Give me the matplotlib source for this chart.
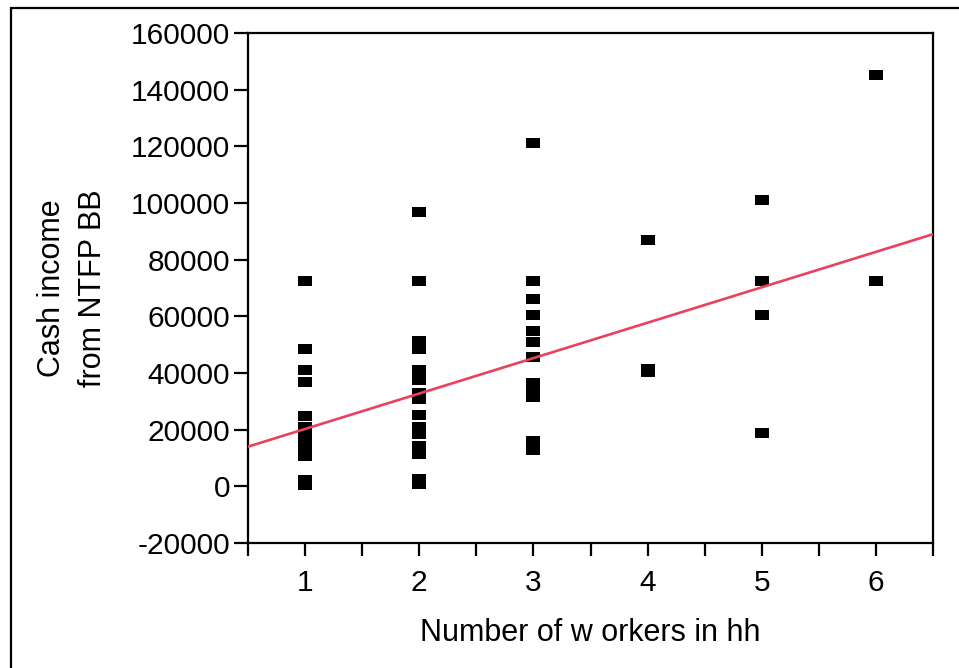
import matplotlib
matplotlib.use("Agg")
import matplotlib.pyplot as plt
from matplotlib.patches import Rectangle
import numpy as np

plt.rcParams['font.family'] = ['Liberation Sans', 'DejaVu Sans']

# Data
workers_1 = [1] * 13
income_1 = [72400, 48500, 40900, 36700, 24700, 20800, 17900, 15500, 13200, 10800, 2300, 600, 1200]
workers_2 = [2] * 16
income_2 = [96800, 72600, 51200, 48500, 40900, 37400, 33000, 31000, 25100, 21100, 18300,
            14400, 11400, 2500, 700, 1500]
workers_3 = [3] * 12
income_3 = [121200, 72600, 66000, 60600, 55000, 50900, 45800, 36500, 33500, 31600, 16100, 12900]
workers_4 = [4, 4, 4]
income_4 = [87100, 41500, 40500]
workers_5 = [5, 5, 5, 5]
income_5 = [101000, 72600, 60600, 18700]
workers_6 = [6, 6]
income_6 = [145100, 72600]

fit_intercept = 7750
fit_slope = 12500

x_ticks = [1, 2, 3, 4, 5, 6]
y_ticks = [-20000, 0, 20000, 40000, 60000, 80000, 100000, 120000, 140000, 160000]

x = workers_1 + workers_2 + workers_3 + workers_4 + workers_5 + workers_6
y = income_1 + income_2 + income_3 + income_4 + income_5 + income_6

fig = plt.figure(figsize=(9.59, 6.68), dpi=100)
ax = fig.add_axes([248/959, 1 - 543/668, (933 - 248)/959, (543 - 33)/668])

rect_marker = [(-1, -0.75), (1, -0.75), (1, 0.75), (-1, 0.75), (-1, -0.75)]
ax.scatter(x, y, marker=rect_marker, s=90, color='black', linewidths=0, zorder=3)

xl = np.array([0.5, 6.5])
ax.plot(xl, fit_intercept + fit_slope * xl, color='#e8425c', lw=1.9, zorder=4)

ax.set_xlim(0.5, 6.5)
ax.set_ylim(-20000, 160000)
ax.set_xticks(x_ticks)
ax.set_xticks([0.5, 1.5, 2.5, 3.5, 4.5, 5.5, 6.5], minor=True)
ax.set_yticks(y_ticks)
ax.set_yticklabels([str(v) for v in y_ticks])
ax.set_xticklabels([str(v) for v in x_ticks])

for s in ax.spines.values():
    s.set_linewidth(1.6)
ax.tick_params(axis='both', which='both', direction='out', width=1.6, length=10,
               labelsize=21.5, color='black')
ax.tick_params(axis='x', which='both', length=9, pad=10)
ax.tick_params(axis='y', pad=3)

ax.set_xlabel('Number of w orkers in hh', fontsize=22, labelpad=15)
ax.set_ylabel('Cash income\nfrom NTFP BB', fontsize=22, labelpad=16, linespacing=1.5)

fig.patches.append(Rectangle((11/959, -0.1), 1.2, (1 - 8/668) + 0.1, transform=fig.transFigure,
                             fill=False, edgecolor='black', lw=1.6, zorder=0))

fig.savefig('out.png', dpi=100)
